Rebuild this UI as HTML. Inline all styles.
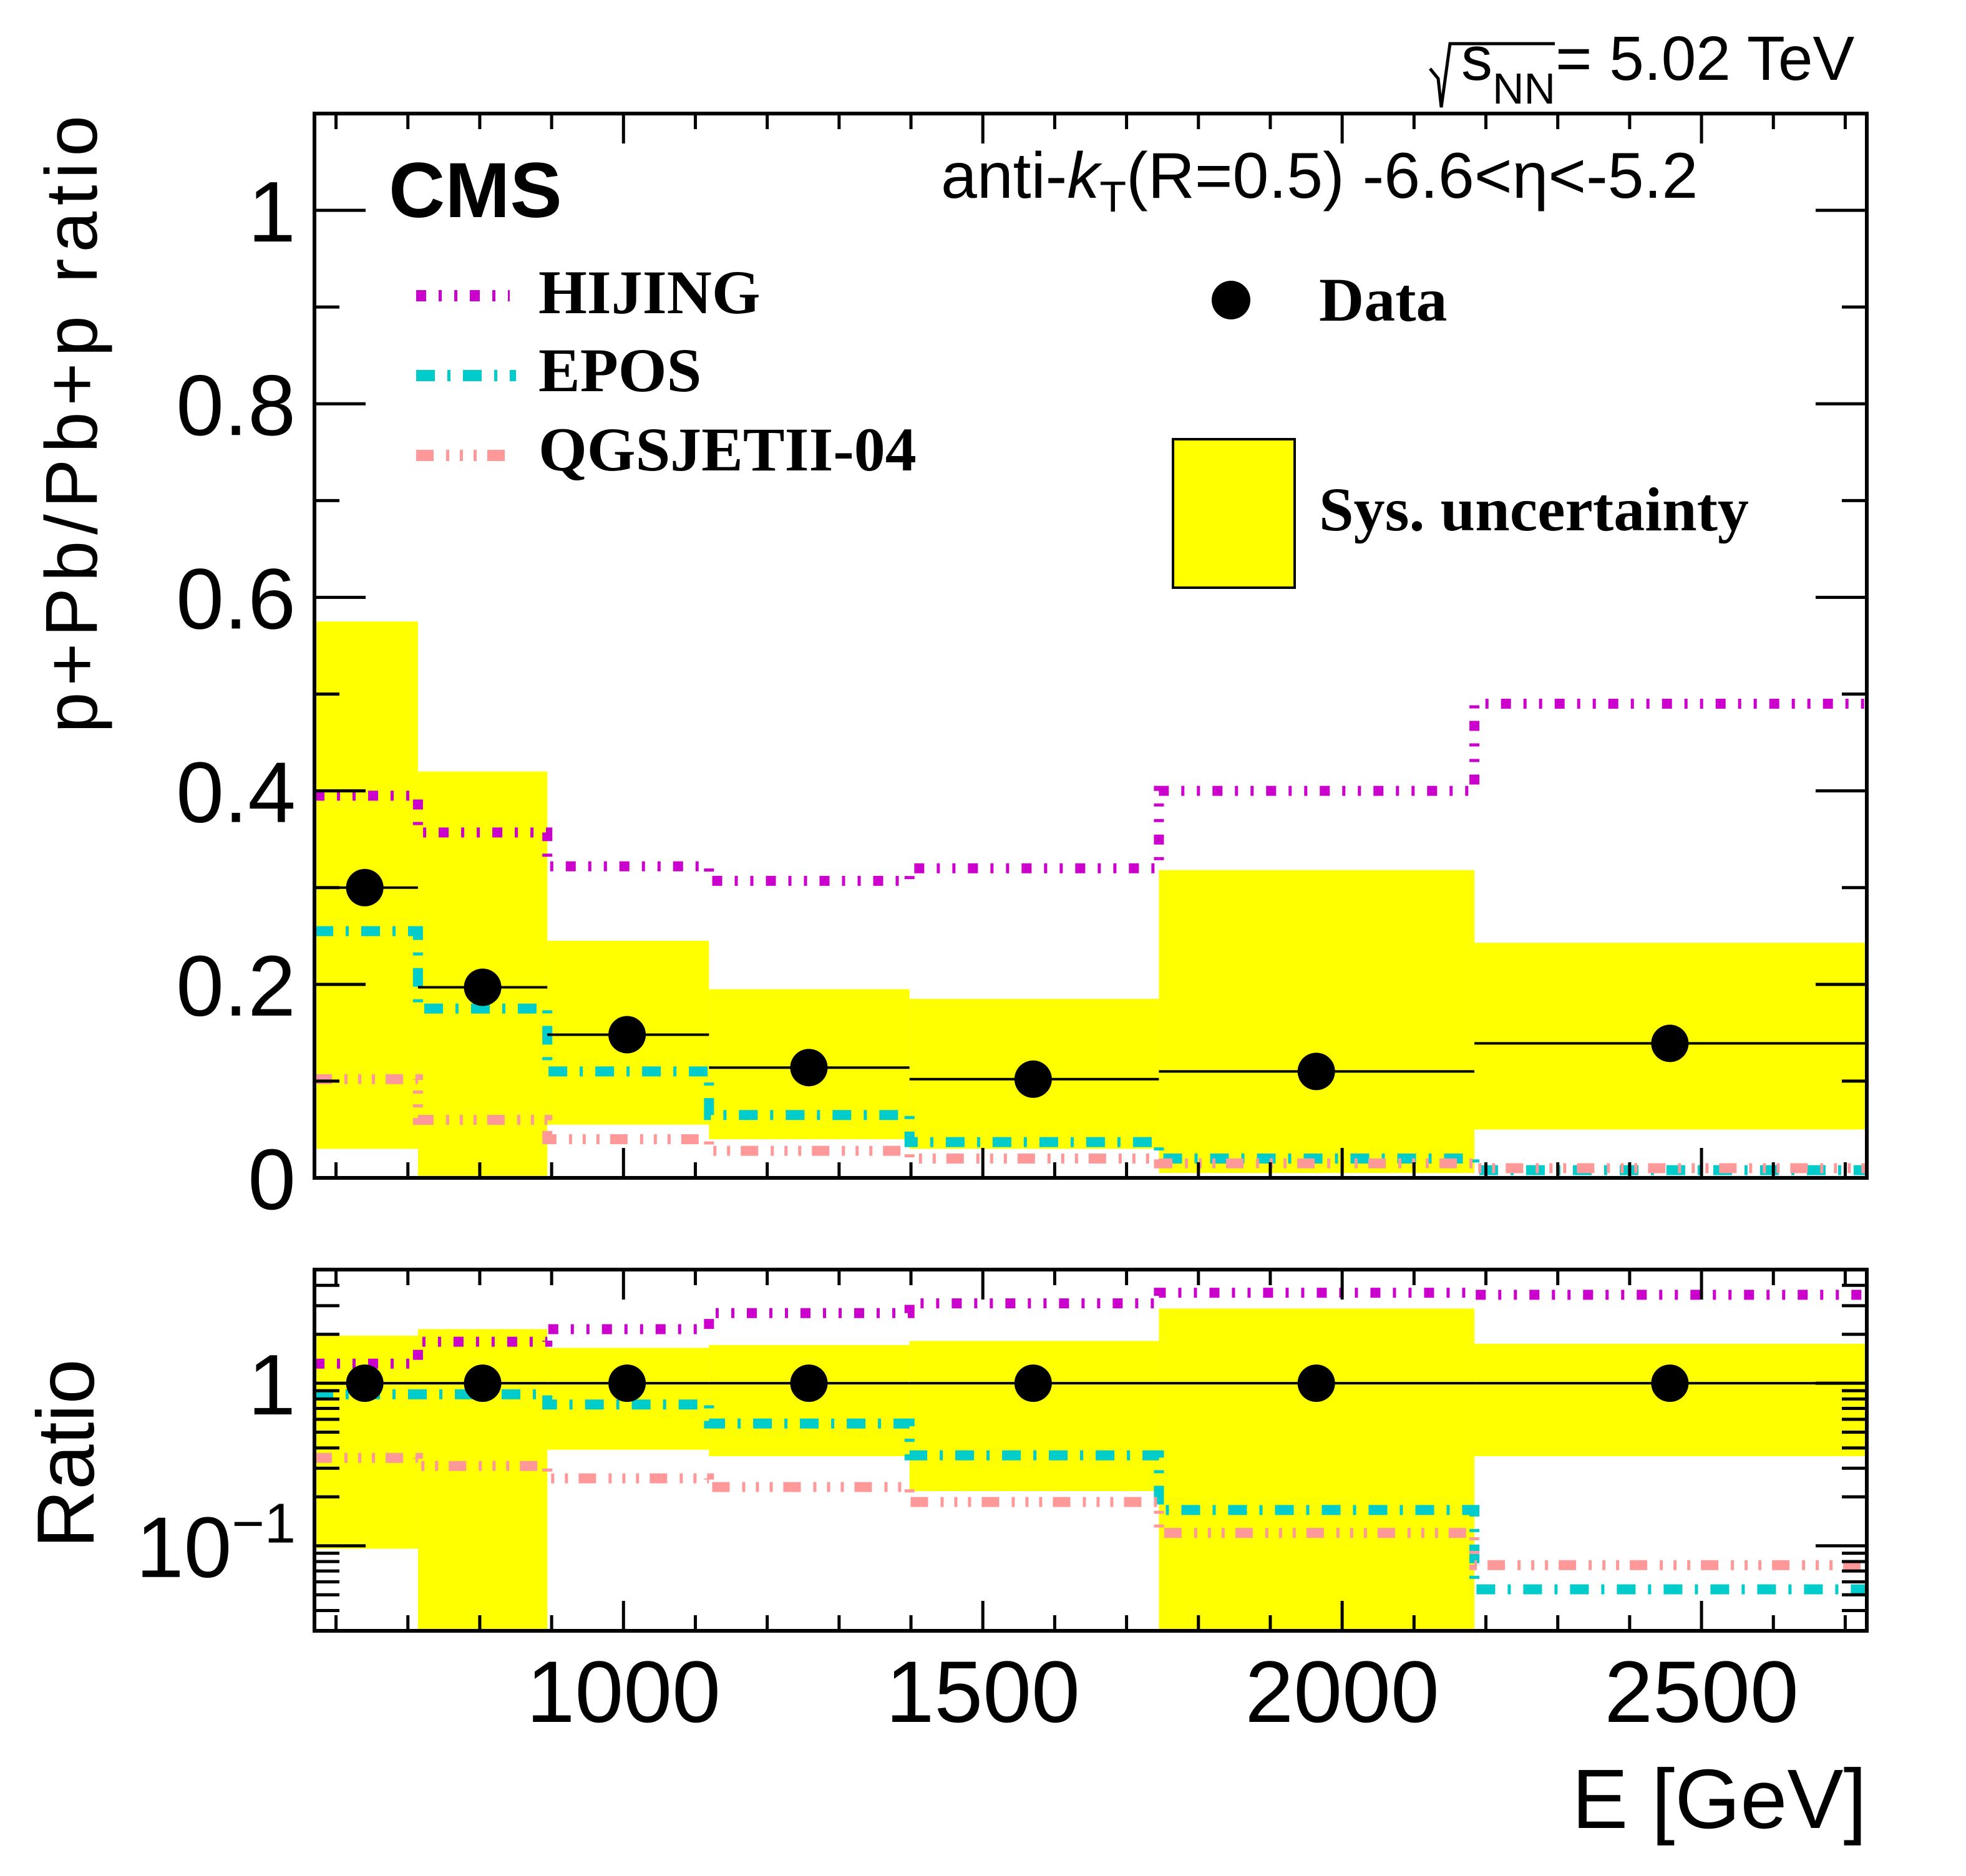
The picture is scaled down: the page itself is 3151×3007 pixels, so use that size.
<!DOCTYPE html>
<html><head><meta charset="utf-8"><style>
html,body{margin:0;padding:0;background:#fff}
svg{display:block}
text{font-family:"Liberation Sans",sans-serif}
.ser{font-family:"Liberation Serif",serif;font-weight:bold}
</style></head><body>
<svg id="chart" width="3151" height="3007" viewBox="0 0 3151 3007" xmlns="http://www.w3.org/2000/svg">
<g id="bands"></g><g id="lines"></g><g id="points"></g><g id="axes"></g>
<text x="623" y="348" font-size="125" font-weight="bold">CMS</text>
<text x="1508" y="317" font-size="104">anti-<tspan font-style="italic">k</tspan><tspan font-size="70" dy="22">T</tspan><tspan dy="-22">(R=0.5) -6.6&lt;η&lt;-5.2</tspan></text>
<g>
<path d="M2292,110 L2305,126 L2310,172 L2324,70 L2492,70" fill="none" stroke="#000" stroke-width="5"/>
<text x="2342" y="128" font-size="100">s<tspan font-size="70" dy="38">NN</tspan><tspan dy="-38">= 5.02 TeV</tspan></text>
</g>
<g>
<line x1="667" y1="474" x2="817" y2="474" stroke="#cc00cc" stroke-width="18" stroke-dasharray="16,20,5,20,5,20"/>
<text class="ser" x="863" y="502" font-size="100">HIJING</text>
<line x1="667" y1="602" x2="827" y2="602" stroke="#00cccc" stroke-width="18" stroke-dasharray="30,20,5,20"/>
<text class="ser" x="863" y="627" font-size="100">EPOS</text>
<line x1="667" y1="730" x2="827" y2="730" stroke="#ff9999" stroke-width="18" stroke-dasharray="28,20,5,17,5,17,5,17"/>
<text class="ser" x="863" y="754" font-size="100">QGSJETII-04</text>
<circle cx="1973" cy="481" r="31" fill="#000"/>
<text class="ser" x="2114" y="514" font-size="100">Data</text>
<rect x="1880" y="704" width="195" height="238" fill="#ffff00" stroke="#000" stroke-width="4"/>
<text class="ser" x="2114" y="850" font-size="100">Sys. uncertainty</text>
</g>
<text transform="translate(155,680) rotate(-90)" text-anchor="middle" font-size="118" textLength="990">p+Pb/Pb+p ratio</text>
<text transform="translate(150,2330) rotate(-90)" text-anchor="middle" font-size="130">Ratio</text>
<text x="2992" y="2930" text-anchor="end" font-size="135">E [GeV]</text>
</svg>
<script>
const edges=[570,714,894,1119,1398,1745,2184,2730];
const dataX=[640,804,1005,1258,1570,1964,2456];
const dataY=[0.30,0.197,0.148,0.114,0.102,0.110,0.139];
const sysLo=[0.03,0.0,0.055,0.04,0.03,0.005,0.05];
const sysHi=[0.575,0.42,0.245,0.195,0.185,0.318,0.243];
const hijing=[0.395,0.357,0.322,0.307,0.32,0.40,0.49];
const epos=[0.255,0.175,0.11,0.065,0.037,0.02,0.008];
const qgs=[0.102,0.06,0.04,0.028,0.02,0.015,0.01];
const rSysLo=[0.096,0.02,0.39,0.356,0.217,0.02,0.356];
const rSysHi=[1.96,2.15,1.65,1.72,1.82,2.88,1.75];
const rHijing=[1.32,1.8,2.15,2.7,3.1,3.6,3.5];
const rEpos=[0.855,0.855,0.74,0.565,0.36,0.166,0.054];
const rQgs=[0.347,0.31,0.26,0.23,0.186,0.12,0.076];
const yTicks=["0","0.2","0.4","0.6","0.8","1"];
const xTicks=["1000","1500","2000","2500"];

const NS="http://www.w3.org/2000/svg";
const L=504,R=2992,T1=182,B1=1888,T2=2035,B2=2614;
const X0=570,X1=2730,Y1MAX=1.1,RMIN=0.03,RMAX=5;
const sx=v=>L+(v-X0)/(X1-X0)*(R-L);
const sy=v=>B1-v/Y1MAX*(B1-T1);
const clampR=v=>Math.min(RMAX,Math.max(RMIN,v));
const sr=v=>B2-(Math.log10(clampR(v))-Math.log10(RMIN))/(Math.log10(RMAX)-Math.log10(RMIN))*(B2-T2);
function mk(tag,attrs,parent){const e=document.createElementNS(NS,tag);for(const k in attrs)e.setAttribute(k,attrs[k]);document.getElementById(parent).appendChild(e);return e;}

for(let i=0;i<dataY.length;i++){
  let e=mk('rect',{x:sx(edges[i]),y:sy(sysHi[i]),width:sx(edges[i+1])-sx(edges[i]),height:sy(sysLo[i])-sy(sysHi[i]),fill:'#ffff00'},'bands');
  
  
  let r=mk('rect',{x:sx(edges[i]),y:sr(rSysHi[i]),width:sx(edges[i+1])-sx(edges[i]),height:sr(rSysLo[i])-sr(rSysHi[i]),fill:'#ffff00'},'bands');
  
  
}
function step(vals,f){let d='';for(let i=0;i<vals.length;i++){d+=(i?'L':'M')+sx(edges[i])+','+f(vals[i])+'L'+sx(edges[i+1])+','+f(vals[i]);}return d;}
const styles=[['hijing',hijing,rHijing,'#cc00cc','16,20,5,20,5,20'],['epos',epos,rEpos,'#00cccc','30,20,5,20'],['qgsjet',qgs,rQgs,'#ff9999','28,20,5,17,5,17,5,17']];
styles.forEach(s=>{
  let p=mk('path',{d:step(s[1],sy),fill:'none',stroke:s[3],'stroke-width':16,'stroke-dasharray':s[4]},'lines');
  
  
  let q=mk('path',{d:step(s[2],sr),fill:'none',stroke:s[3],'stroke-width':16,'stroke-dasharray':s[4]},'lines');
  
  
});
for(let i=0;i<dataY.length;i++){
  let l=mk('line',{x1:sx(edges[i]),x2:sx(edges[i+1]),y1:sy(dataY[i]),y2:sy(dataY[i]),stroke:'#000','stroke-width':4},'points');
  
  
  let c=mk('circle',{cx:sx(dataX[i]),cy:sy(dataY[i]),r:30,fill:'#000'},'points');
  
  
  let l2=mk('line',{x1:sx(edges[i]),x2:sx(edges[i+1]),y1:sr(1),y2:sr(1),stroke:'#000','stroke-width':4},'points');
  
  
  let c2=mk('circle',{cx:sx(dataX[i]),cy:sr(1),r:30,fill:'#000'},'points');
  
  
}
[[T1,B1,'top-panel-frame'],[T2,B2,'ratio-panel-frame']].forEach(f=>{
  let r=mk('rect',{x:L,y:f[0],width:R-L,height:f[1]-f[0],fill:'none',stroke:'#000','stroke-width':6},'axes');
  
  
});
function tk(x1,y1,x2,y2){mk('line',{x1,y1,x2,y2,stroke:'#000','stroke-width':5},'axes');}
for(let v=600;v<=2700;v+=100){
  const maj=v%500===0,len=maj?48:25,x=sx(v);
  tk(x,B1,x,B1-len);tk(x,T1,x,T1+len);tk(x,B2,x,B2-len);tk(x,T2,x,T2+len);
}
xTicks.forEach(t=>{
  let e=mk('text',{x:sx(+t),y:2760,'text-anchor':'middle','font-size':140},'axes');
  e.textContent=t;
  
  
});
for(let k=0;k<=11;k++){
  const v=k/10,maj=k%2===0,len=maj?82:40,y=sy(v);
  tk(L,y,L+len,y);tk(R,y,R-len,y);
}
yTicks.forEach(t=>{
  let e=mk('text',{x:474,y:sy(+t)+50,'text-anchor':'end','font-size':138},'axes');
  e.textContent=t;
  
  
});
[0.03,0.04,0.05,0.06,0.07,0.08,0.09,0.1,0.2,0.3,0.4,0.5,0.6,0.7,0.8,0.9,1,2,3,4,5].forEach(v=>{
  const maj=(v===0.1||v===1),len=maj?82:40,y=sr(v);
  tk(L,y,L+len,y);tk(R,y,R-len,y);
});
let one=mk('text',{x:474,y:sr(1)+50,'text-anchor':'end','font-size':138},'axes');
one.textContent='1';


let tenth=mk('text',{x:474,y:sr(0.1)+50,'text-anchor':'end','font-size':138},'axes');
tenth.innerHTML='10<tspan font-size="90" dy="-55">−1</tspan>';


</script>
</body></html>
